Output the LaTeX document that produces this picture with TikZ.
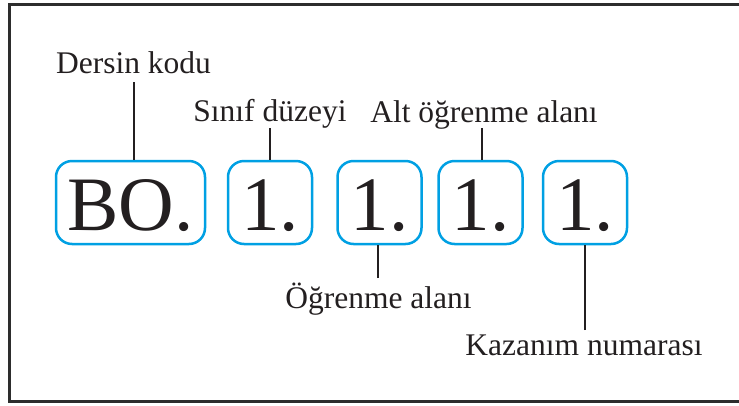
\documentclass[tikz,border=0pt]{standalone}
\usepackage{fontspec}
\setmainfont{Liberation Serif}
\definecolor{codeblue}{RGB}{0,160,227}
\definecolor{ink}{RGB}{35,31,32}
\definecolor{framegray}{RGB}{45,45,45}
\begin{document}
\begin{tikzpicture}[x=1pt,y=-1pt,
  codebox/.style={draw=codeblue, line width=2.5pt, rounded corners=16pt,
    inner xsep=0pt, inner ysep=0pt, text height=69pt, text depth=14pt,
    minimum width=84pt, text=ink,
    font=\fontsize{77}{80}\selectfont},
  caption/.style={anchor=base, inner sep=0pt, text=ink,
    font=\fontsize{31.5}{36}\selectfont},
  leader/.style={draw=ink, line width=2pt}]
\useasboundingbox (0,0) rectangle (739,405);

% outer frame (its right side lies past the page edge)
\draw[framegray, line width=3pt] (760,4.5) -- (9.5,4.5) -- (9.5,401.5) -- (760,401.5);

% code parts
\node[codebox, minimum width=149pt] (b1) at (130.5,202.5) {BO.};
\node[codebox] (b2) at (270,202.5) {1.};
\node[codebox] (b3) at (379.5,202.5) {1.};
\node[codebox] (b4) at (480.5,202.5) {1.};
\node[codebox] (b5) at (585,202.5) {1.};

% captions
\node[caption] (t1) at (133.5,73) {Dersin kodu};
\node[caption] (t2) at (270,121) {Sınıf düzeyi};
\node[caption] (t4) at (484,122) {Alt öğrenme alanı};
\node[caption] (t3) at (378.5,308) {Öğrenme alanı};
\node[caption] (t5) at (584,355) {Kazanım numarası};

% leader ends
\coordinate (e1) at (134,82);
\coordinate (e2) at (270,128);
\coordinate (e4) at (482,128);
\coordinate (e3) at (378,278);
\coordinate (e5) at (585,330);

\draw[leader] (e1) -- (e1 |- b1.north);
\draw[leader] (e2) -- (e2 |- b2.north);
\draw[leader] (e4) -- (e4 |- b4.north);
\draw[leader] (e3) -- (e3 |- b3.south);
\draw[leader] (e5) -- (e5 |- b5.south);
\end{tikzpicture}
\end{document}
